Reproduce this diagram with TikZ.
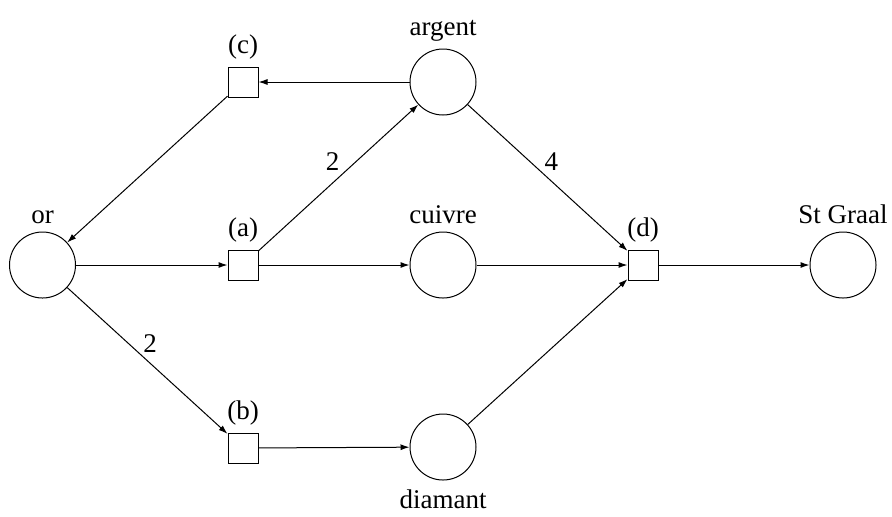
\documentclass[tikz,border=0pt]{standalone}
\usepackage{fontspec}
\setmainfont{Liberation Serif}
\usetikzlibrary{arrows.meta}
\begin{document}
\begin{tikzpicture}[x=0.5pt,y=-0.5pt,
  every node/.style={font=\rmfamily\fontsize{13.5}{16}\selectfont},
  place/.style={draw,circle,minimum size=33pt,inner sep=0pt,line width=0.5pt},
  trans/.style={draw,rectangle,minimum size=15pt,inner sep=0pt,line width=0.5pt},
  arc/.style={-{Latex[length=4.5pt,width=3pt]},line width=0.5pt},
  wt/.style={inner sep=0pt,yshift=2pt},
  every label/.style={font=\rmfamily\fontsize{13.5}{16}\selectfont,inner sep=2pt},
  label distance=1.5pt]
\useasboundingbox (0,0) rectangle (892,516);
\node[place,label={above:or}] (or) at (42.5,265) {};
\node[place,label={above:argent}] (argent) at (443,82) {};
\node[place,label={above:cuivre}] (cuivre) at (443,265) {};
\node[place,label={[label distance=2.5pt]below:diamant}] (diamant) at (443,447) {};
\node[place,label={above:St Graal}] (graal) at (843,265) {};
\node[trans,label={above:(c)}] (c) at (243,82) {};
\node[trans,label={above:(a)}] (a) at (243,265) {};
\node[trans,label={above:(b)}] (b) at (243,448) {};
\node[trans,label={above:(d)}] (d) at (643,265) {};
\draw[arc] (or) -- (a);
\draw[arc] (a) -- (cuivre);
\draw[arc] (a) -- node[wt,pos=0.585,left=6pt] (l1) {2} (argent);
\draw[arc] (argent) -- (c);
\draw[arc] (c) -- (or);
\draw[arc] (or) -- node[wt,pos=0.41,right=5pt] (l2) {2} (b);
\draw[arc] (b) -- (diamant);
\draw[arc] (argent) -- node[wt,pos=0.415,right=5pt] (l3) {4} (d);
\draw[arc] (cuivre) -- (d);
\draw[arc] (diamant) -- (d);
\draw[arc] (d) -- (graal);
\end{tikzpicture}
\end{document}
